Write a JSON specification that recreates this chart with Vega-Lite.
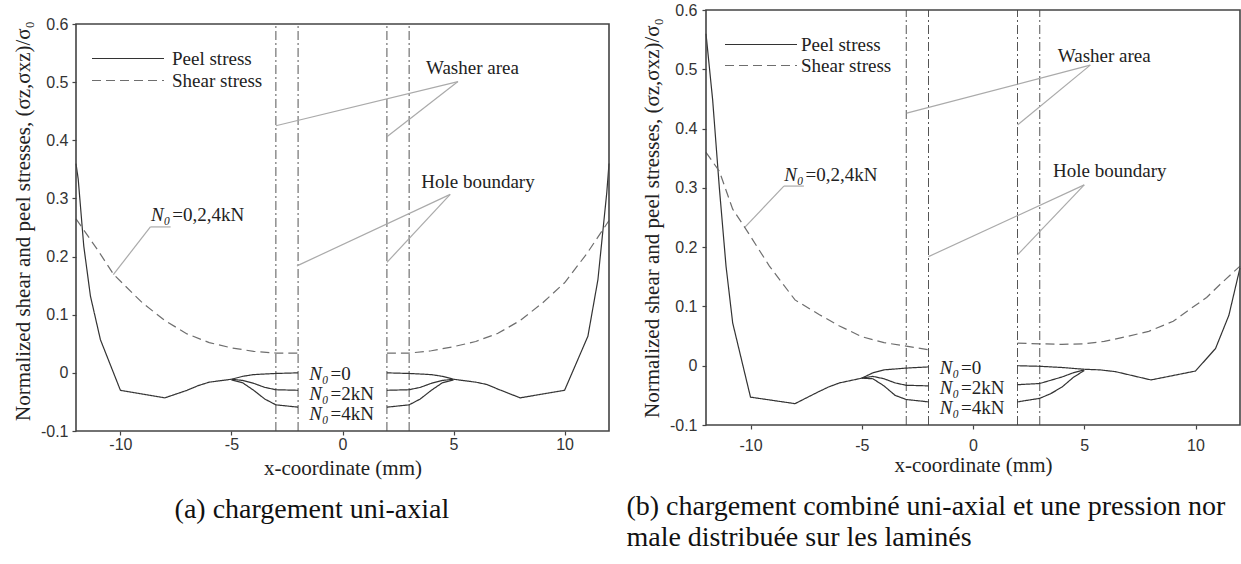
{
  "$schema": "https://vega.github.io/schema/vega-lite/v6.json",
  "background": "white",
  "padding": {"left": 12, "top": 2, "right": 0, "bottom": 0},
  "config": {
    "view": {"stroke": null},
    "font": "Liberation Serif",
    "axis": {"grid": false, "domain": false, "tickColor": "#444", "tickSize": 4, "tickWidth": 1.2, "labelFont": "Liberation Sans", "labelFontSize": 16, "labelColor": "#333", "titleFont": "Liberation Serif", "titleFontSize": 21, "titleFontWeight": "normal", "titleColor": "#222"},
    "title": {"font": "Liberation Serif", "fontSize": 28, "fontWeight": "normal", "color": "#111"},
    "concat": {"spacing": 14}
  },
  "datasets": {
    "frame": [{"x": -12, "x2": 12, "y": -0.1, "y2": 0.6}],
    "verticals": [{"x": -3, "y": -0.1, "y2": 0.6}, {"x": -2, "y": -0.1, "y2": 0.6}, {"x": 2, "y": -0.1, "y2": 0.6}, {"x": 3, "y": -0.1, "y2": 0.6}],
    "leaders": [
      {"panel": "a", "x": 5.2, "y": 0.501, "x2": -3, "y2": 0.425},
      {"panel": "a", "x": 5.2, "y": 0.501, "x2": 2, "y2": 0.406},
      {"panel": "a", "x": 4.85, "y": 0.307, "x2": -2.05, "y2": 0.184},
      {"panel": "a", "x": 4.85, "y": 0.307, "x2": 2, "y2": 0.19},
      {"panel": "a", "x": -10.32, "y": 0.169, "x2": -8.65, "y2": 0.251},
      {"panel": "a", "x": -8.65, "y": 0.251, "x2": -7.74, "y2": 0.251},
      {"panel": "b", "x": 5.27, "y": 0.507, "x2": -2.98, "y2": 0.426},
      {"panel": "b", "x": 5.27, "y": 0.507, "x2": 2, "y2": 0.406},
      {"panel": "b", "x": 5.0, "y": 0.305, "x2": -2.0, "y2": 0.184},
      {"panel": "b", "x": 5.0, "y": 0.305, "x2": 2, "y2": 0.187},
      {"panel": "b", "x": -10.27, "y": 0.233, "x2": -8.5, "y2": 0.303},
      {"panel": "b", "x": -8.5, "y": 0.303, "x2": -7.6, "y2": 0.303}
    ],
    "notes": [
      {"panel": "a", "kind": "label", "x": 5.85, "y": 0.524, "text": "Washer area"},
      {"panel": "a", "kind": "label", "x": 6.1, "y": 0.328, "text": "Hole boundary"},
      {"panel": "a", "kind": "nsym", "x": -7.71, "y": 0.272, "text": "N₀"},
      {"panel": "a", "kind": "nrest", "x": -7.71, "y": 0.272, "text": "=0,2,4kN"},
      {"panel": "a", "kind": "nsym", "x": -0.58, "y": -0.002, "text": "N₀"},
      {"panel": "a", "kind": "nrest", "x": -0.58, "y": -0.002, "text": "=0"},
      {"panel": "a", "kind": "nsym", "x": -0.58, "y": -0.036, "text": "N₀"},
      {"panel": "a", "kind": "nrest", "x": -0.58, "y": -0.036, "text": "=2kN"},
      {"panel": "a", "kind": "nsym", "x": -0.58, "y": -0.071, "text": "N₀"},
      {"panel": "a", "kind": "nrest", "x": -0.58, "y": -0.071, "text": "=4kN"},
      {"panel": "b", "kind": "label", "x": 5.9, "y": 0.522, "text": "Washer area"},
      {"panel": "b", "kind": "label", "x": 6.15, "y": 0.328, "text": "Hole boundary"},
      {"panel": "b", "kind": "nsym", "x": -7.57, "y": 0.322, "text": "N₀"},
      {"panel": "b", "kind": "nrest", "x": -7.57, "y": 0.322, "text": "=0,2,4kN"},
      {"panel": "b", "kind": "nsym", "x": -0.58, "y": -0.004, "text": "N₀"},
      {"panel": "b", "kind": "nrest", "x": -0.58, "y": -0.004, "text": "=0"},
      {"panel": "b", "kind": "nsym", "x": -0.58, "y": -0.037, "text": "N₀"},
      {"panel": "b", "kind": "nrest", "x": -0.58, "y": -0.037, "text": "=2kN"},
      {"panel": "b", "kind": "nsym", "x": -0.58, "y": -0.071, "text": "N₀"},
      {"panel": "b", "kind": "nrest", "x": -0.58, "y": -0.071, "text": "=4kN"}
    ],
    "curves": [
      {"panel": "a", "stress": "Peel stress", "seg": "aLc", "x": -12, "y": 0.36},
      {"panel": "a", "stress": "Peel stress", "seg": "aLc", "x": -11.9, "y": 0.333},
      {"panel": "a", "stress": "Peel stress", "seg": "aLc", "x": -11.65, "y": 0.218},
      {"panel": "a", "stress": "Peel stress", "seg": "aLc", "x": -11.35, "y": 0.132},
      {"panel": "a", "stress": "Peel stress", "seg": "aLc", "x": -10.9, "y": 0.057},
      {"panel": "a", "stress": "Peel stress", "seg": "aLc", "x": -10, "y": -0.03},
      {"panel": "a", "stress": "Peel stress", "seg": "aLc", "x": -8, "y": -0.043},
      {"panel": "a", "stress": "Peel stress", "seg": "aLc", "x": -7, "y": -0.03},
      {"panel": "a", "stress": "Peel stress", "seg": "aLc", "x": -6.5, "y": -0.022},
      {"panel": "a", "stress": "Peel stress", "seg": "aLc", "x": -6, "y": -0.016},
      {"panel": "a", "stress": "Peel stress", "seg": "aLc", "x": -5, "y": -0.011},
      {"panel": "a", "stress": "Peel stress", "seg": "aL0", "x": -5, "y": -0.011},
      {"panel": "a", "stress": "Peel stress", "seg": "aL0", "x": -4.5, "y": -0.006},
      {"panel": "a", "stress": "Peel stress", "seg": "aL0", "x": -4, "y": -0.003},
      {"panel": "a", "stress": "Peel stress", "seg": "aL0", "x": -3, "y": -0.001},
      {"panel": "a", "stress": "Peel stress", "seg": "aL0", "x": -2, "y": 0},
      {"panel": "a", "stress": "Peel stress", "seg": "aL2", "x": -5, "y": -0.011},
      {"panel": "a", "stress": "Peel stress", "seg": "aL2", "x": -4.5, "y": -0.013},
      {"panel": "a", "stress": "Peel stress", "seg": "aL2", "x": -4, "y": -0.018},
      {"panel": "a", "stress": "Peel stress", "seg": "aL2", "x": -3.5, "y": -0.025},
      {"panel": "a", "stress": "Peel stress", "seg": "aL2", "x": -3, "y": -0.029},
      {"panel": "a", "stress": "Peel stress", "seg": "aL2", "x": -2, "y": -0.03},
      {"panel": "a", "stress": "Peel stress", "seg": "aL4", "x": -5, "y": -0.012},
      {"panel": "a", "stress": "Peel stress", "seg": "aL4", "x": -4.5, "y": -0.017},
      {"panel": "a", "stress": "Peel stress", "seg": "aL4", "x": -4, "y": -0.03},
      {"panel": "a", "stress": "Peel stress", "seg": "aL4", "x": -3.5, "y": -0.045},
      {"panel": "a", "stress": "Peel stress", "seg": "aL4", "x": -3, "y": -0.055},
      {"panel": "a", "stress": "Peel stress", "seg": "aL4", "x": -2, "y": -0.059},
      {"panel": "a", "stress": "Peel stress", "seg": "aR0", "x": 2, "y": 0},
      {"panel": "a", "stress": "Peel stress", "seg": "aR0", "x": 3, "y": -0.001},
      {"panel": "a", "stress": "Peel stress", "seg": "aR0", "x": 4, "y": -0.003},
      {"panel": "a", "stress": "Peel stress", "seg": "aR0", "x": 4.5, "y": -0.006},
      {"panel": "a", "stress": "Peel stress", "seg": "aR0", "x": 5, "y": -0.011},
      {"panel": "a", "stress": "Peel stress", "seg": "aR2", "x": 2, "y": -0.03},
      {"panel": "a", "stress": "Peel stress", "seg": "aR2", "x": 3, "y": -0.029},
      {"panel": "a", "stress": "Peel stress", "seg": "aR2", "x": 3.5, "y": -0.025},
      {"panel": "a", "stress": "Peel stress", "seg": "aR2", "x": 4, "y": -0.018},
      {"panel": "a", "stress": "Peel stress", "seg": "aR2", "x": 4.5, "y": -0.013},
      {"panel": "a", "stress": "Peel stress", "seg": "aR2", "x": 5, "y": -0.011},
      {"panel": "a", "stress": "Peel stress", "seg": "aR4", "x": 2, "y": -0.059},
      {"panel": "a", "stress": "Peel stress", "seg": "aR4", "x": 3, "y": -0.055},
      {"panel": "a", "stress": "Peel stress", "seg": "aR4", "x": 3.5, "y": -0.045},
      {"panel": "a", "stress": "Peel stress", "seg": "aR4", "x": 4, "y": -0.03},
      {"panel": "a", "stress": "Peel stress", "seg": "aR4", "x": 4.5, "y": -0.017},
      {"panel": "a", "stress": "Peel stress", "seg": "aR4", "x": 5, "y": -0.012},
      {"panel": "a", "stress": "Peel stress", "seg": "aRc", "x": 5, "y": -0.011},
      {"panel": "a", "stress": "Peel stress", "seg": "aRc", "x": 6, "y": -0.016},
      {"panel": "a", "stress": "Peel stress", "seg": "aRc", "x": 6.5, "y": -0.02},
      {"panel": "a", "stress": "Peel stress", "seg": "aRc", "x": 7, "y": -0.028},
      {"panel": "a", "stress": "Peel stress", "seg": "aRc", "x": 8, "y": -0.043},
      {"panel": "a", "stress": "Peel stress", "seg": "aRc", "x": 10, "y": -0.03},
      {"panel": "a", "stress": "Peel stress", "seg": "aRc", "x": 11.05, "y": 0.063},
      {"panel": "a", "stress": "Peel stress", "seg": "aRc", "x": 11.5, "y": 0.16},
      {"panel": "a", "stress": "Peel stress", "seg": "aRc", "x": 11.9, "y": 0.31},
      {"panel": "a", "stress": "Peel stress", "seg": "aRc", "x": 12, "y": 0.36},
      {"panel": "a", "stress": "Shear stress", "seg": "aLs", "x": -12, "y": 0.265},
      {"panel": "a", "stress": "Shear stress", "seg": "aLs", "x": -11, "y": 0.21},
      {"panel": "a", "stress": "Shear stress", "seg": "aLs", "x": -10.3, "y": 0.169},
      {"panel": "a", "stress": "Shear stress", "seg": "aLs", "x": -9, "y": 0.12},
      {"panel": "a", "stress": "Shear stress", "seg": "aLs", "x": -8, "y": 0.09},
      {"panel": "a", "stress": "Shear stress", "seg": "aLs", "x": -7, "y": 0.067},
      {"panel": "a", "stress": "Shear stress", "seg": "aLs", "x": -6, "y": 0.052},
      {"panel": "a", "stress": "Shear stress", "seg": "aLs", "x": -5, "y": 0.043},
      {"panel": "a", "stress": "Shear stress", "seg": "aLs", "x": -4, "y": 0.037},
      {"panel": "a", "stress": "Shear stress", "seg": "aLs", "x": -3, "y": 0.034},
      {"panel": "a", "stress": "Shear stress", "seg": "aLs", "x": -2, "y": 0.034},
      {"panel": "a", "stress": "Shear stress", "seg": "aRs", "x": 2, "y": 0.034},
      {"panel": "a", "stress": "Shear stress", "seg": "aRs", "x": 3, "y": 0.034},
      {"panel": "a", "stress": "Shear stress", "seg": "aRs", "x": 4, "y": 0.038},
      {"panel": "a", "stress": "Shear stress", "seg": "aRs", "x": 5, "y": 0.045},
      {"panel": "a", "stress": "Shear stress", "seg": "aRs", "x": 6, "y": 0.054},
      {"panel": "a", "stress": "Shear stress", "seg": "aRs", "x": 7, "y": 0.068},
      {"panel": "a", "stress": "Shear stress", "seg": "aRs", "x": 8, "y": 0.09},
      {"panel": "a", "stress": "Shear stress", "seg": "aRs", "x": 9, "y": 0.12},
      {"panel": "a", "stress": "Shear stress", "seg": "aRs", "x": 10, "y": 0.155},
      {"panel": "a", "stress": "Shear stress", "seg": "aRs", "x": 11, "y": 0.205},
      {"panel": "a", "stress": "Shear stress", "seg": "aRs", "x": 12, "y": 0.262},
      {"panel": "b", "stress": "Peel stress", "seg": "bLc", "x": -12, "y": 0.56},
      {"panel": "b", "stress": "Peel stress", "seg": "bLc", "x": -11.7, "y": 0.448},
      {"panel": "b", "stress": "Peel stress", "seg": "bLc", "x": -11.4, "y": 0.3},
      {"panel": "b", "stress": "Peel stress", "seg": "bLc", "x": -11.1, "y": 0.168},
      {"panel": "b", "stress": "Peel stress", "seg": "bLc", "x": -10.8, "y": 0.072},
      {"panel": "b", "stress": "Peel stress", "seg": "bLc", "x": -10, "y": -0.053},
      {"panel": "b", "stress": "Peel stress", "seg": "bLc", "x": -8, "y": -0.064},
      {"panel": "b", "stress": "Peel stress", "seg": "bLc", "x": -7, "y": -0.045},
      {"panel": "b", "stress": "Peel stress", "seg": "bLc", "x": -6.5, "y": -0.036},
      {"panel": "b", "stress": "Peel stress", "seg": "bLc", "x": -6, "y": -0.029},
      {"panel": "b", "stress": "Peel stress", "seg": "bLc", "x": -5, "y": -0.021},
      {"panel": "b", "stress": "Peel stress", "seg": "bL0", "x": -5, "y": -0.021},
      {"panel": "b", "stress": "Peel stress", "seg": "bL0", "x": -4.5, "y": -0.012},
      {"panel": "b", "stress": "Peel stress", "seg": "bL0", "x": -4, "y": -0.007},
      {"panel": "b", "stress": "Peel stress", "seg": "bL0", "x": -3, "y": -0.004},
      {"panel": "b", "stress": "Peel stress", "seg": "bL0", "x": -2, "y": -0.002},
      {"panel": "b", "stress": "Peel stress", "seg": "bL2", "x": -5, "y": -0.021},
      {"panel": "b", "stress": "Peel stress", "seg": "bL2", "x": -4.5, "y": -0.018},
      {"panel": "b", "stress": "Peel stress", "seg": "bL2", "x": -4, "y": -0.022},
      {"panel": "b", "stress": "Peel stress", "seg": "bL2", "x": -3.5, "y": -0.029},
      {"panel": "b", "stress": "Peel stress", "seg": "bL2", "x": -3, "y": -0.033},
      {"panel": "b", "stress": "Peel stress", "seg": "bL2", "x": -2, "y": -0.034},
      {"panel": "b", "stress": "Peel stress", "seg": "bL4", "x": -5, "y": -0.021},
      {"panel": "b", "stress": "Peel stress", "seg": "bL4", "x": -4.5, "y": -0.022},
      {"panel": "b", "stress": "Peel stress", "seg": "bL4", "x": -4, "y": -0.034},
      {"panel": "b", "stress": "Peel stress", "seg": "bL4", "x": -3.5, "y": -0.05},
      {"panel": "b", "stress": "Peel stress", "seg": "bL4", "x": -3, "y": -0.057},
      {"panel": "b", "stress": "Peel stress", "seg": "bL4", "x": -2, "y": -0.061},
      {"panel": "b", "stress": "Peel stress", "seg": "bR0", "x": 2, "y": 0},
      {"panel": "b", "stress": "Peel stress", "seg": "bR0", "x": 3, "y": -0.001},
      {"panel": "b", "stress": "Peel stress", "seg": "bR0", "x": 4, "y": -0.003},
      {"panel": "b", "stress": "Peel stress", "seg": "bR0", "x": 5, "y": -0.006},
      {"panel": "b", "stress": "Peel stress", "seg": "bR2", "x": 2, "y": -0.032},
      {"panel": "b", "stress": "Peel stress", "seg": "bR2", "x": 3, "y": -0.03},
      {"panel": "b", "stress": "Peel stress", "seg": "bR2", "x": 4, "y": -0.019},
      {"panel": "b", "stress": "Peel stress", "seg": "bR2", "x": 4.5, "y": -0.012},
      {"panel": "b", "stress": "Peel stress", "seg": "bR2", "x": 5, "y": -0.007},
      {"panel": "b", "stress": "Peel stress", "seg": "bR4", "x": 2, "y": -0.061},
      {"panel": "b", "stress": "Peel stress", "seg": "bR4", "x": 3, "y": -0.055},
      {"panel": "b", "stress": "Peel stress", "seg": "bR4", "x": 3.5, "y": -0.047},
      {"panel": "b", "stress": "Peel stress", "seg": "bR4", "x": 4, "y": -0.036},
      {"panel": "b", "stress": "Peel stress", "seg": "bR4", "x": 4.5, "y": -0.02},
      {"panel": "b", "stress": "Peel stress", "seg": "bR4", "x": 5, "y": -0.008},
      {"panel": "b", "stress": "Peel stress", "seg": "bRc", "x": 5, "y": -0.006},
      {"panel": "b", "stress": "Peel stress", "seg": "bRc", "x": 5.7, "y": -0.007},
      {"panel": "b", "stress": "Peel stress", "seg": "bRc", "x": 6.4, "y": -0.01},
      {"panel": "b", "stress": "Peel stress", "seg": "bRc", "x": 8, "y": -0.024},
      {"panel": "b", "stress": "Peel stress", "seg": "bRc", "x": 10, "y": -0.009},
      {"panel": "b", "stress": "Peel stress", "seg": "bRc", "x": 10.9, "y": 0.029},
      {"panel": "b", "stress": "Peel stress", "seg": "bRc", "x": 11.5, "y": 0.085},
      {"panel": "b", "stress": "Peel stress", "seg": "bRc", "x": 12, "y": 0.165},
      {"panel": "b", "stress": "Shear stress", "seg": "bLs", "x": -12, "y": 0.36},
      {"panel": "b", "stress": "Shear stress", "seg": "bLs", "x": -11.4, "y": 0.328},
      {"panel": "b", "stress": "Shear stress", "seg": "bLs", "x": -10.8, "y": 0.264},
      {"panel": "b", "stress": "Shear stress", "seg": "bLs", "x": -10.2, "y": 0.23},
      {"panel": "b", "stress": "Shear stress", "seg": "bLs", "x": -9.15, "y": 0.168},
      {"panel": "b", "stress": "Shear stress", "seg": "bLs", "x": -8, "y": 0.111},
      {"panel": "b", "stress": "Shear stress", "seg": "bLs", "x": -6.9, "y": 0.086},
      {"panel": "b", "stress": "Shear stress", "seg": "bLs", "x": -6, "y": 0.067},
      {"panel": "b", "stress": "Shear stress", "seg": "bLs", "x": -5, "y": 0.049},
      {"panel": "b", "stress": "Shear stress", "seg": "bLs", "x": -4, "y": 0.039},
      {"panel": "b", "stress": "Shear stress", "seg": "bLs", "x": -3, "y": 0.033},
      {"panel": "b", "stress": "Shear stress", "seg": "bLs", "x": -2, "y": 0.027},
      {"panel": "b", "stress": "Shear stress", "seg": "bRs", "x": 2, "y": 0.038},
      {"panel": "b", "stress": "Shear stress", "seg": "bRs", "x": 3, "y": 0.037},
      {"panel": "b", "stress": "Shear stress", "seg": "bRs", "x": 4, "y": 0.036},
      {"panel": "b", "stress": "Shear stress", "seg": "bRs", "x": 5, "y": 0.037},
      {"panel": "b", "stress": "Shear stress", "seg": "bRs", "x": 5.9, "y": 0.041},
      {"panel": "b", "stress": "Shear stress", "seg": "bRs", "x": 7, "y": 0.05},
      {"panel": "b", "stress": "Shear stress", "seg": "bRs", "x": 7.9, "y": 0.058},
      {"panel": "b", "stress": "Shear stress", "seg": "bRs", "x": 9, "y": 0.075},
      {"panel": "b", "stress": "Shear stress", "seg": "bRs", "x": 9.7, "y": 0.094},
      {"panel": "b", "stress": "Shear stress", "seg": "bRs", "x": 10.5, "y": 0.115},
      {"panel": "b", "stress": "Shear stress", "seg": "bRs", "x": 11.1, "y": 0.137},
      {"panel": "b", "stress": "Shear stress", "seg": "bRs", "x": 12, "y": 0.168}
    ]
  },
  "resolve": {"legend": {"strokeDash": "independent", "color": "independent"}},
  "hconcat": [
    {
      "width": 533,
      "height": 421,
      "title": {"text": "(a) chargement uni-axial", "orient": "bottom", "anchor": "middle", "frame": "bounds", "offset": 18},
      "encoding": {
        "x": {"field": "x", "type": "quantitative", "scale": {"domain": [-12, 12], "nice": false, "zero": false},
              "axis": {"values": [-10, -5, 0, 5, 10], "title": "x-coordinate (mm)", "labelExpr": "datum.value < 0 ? '-' + format(-datum.value, 'd') : format(datum.value, 'd')", "labelPadding": 1, "titlePadding": 5}},
        "y": {"field": "y", "type": "quantitative", "scale": {"domain": [-0.1, 0.6241], "nice": false, "zero": false},
              "axis": {"values": [-0.1, 0, 0.1, 0.2, 0.3, 0.4, 0.5, 0.6], "title": "Normalized shear and peel stresses, (σz,σxz)/σ₀", "labelExpr": "datum.value == 0 ? '0' : (datum.value < 0 ? '-' + format(-datum.value, '.1f') : format(datum.value, '.1f'))", "labelPadding": 4, "titlePadding": 7}}
      },
      "layer": [
        {"data": {"name": "verticals"}, "mark": {"type": "rule", "stroke": "#555", "strokeWidth": 1, "strokeDash": [9, 3, 2, 3]},
         "encoding": {"y2": {"field": "y2"}}},
        {"data": {"name": "leaders"}, "transform": [{"filter": "datum.panel == 'a'"}], "mark": {"type": "rule", "stroke": "#aaa", "strokeWidth": 1.2},
         "encoding": {"x2": {"field": "x2"}, "y2": {"field": "y2"}}},
        {"data": {"name": "curves"}, "transform": [{"filter": "datum.panel == 'a'"}], "mark": {"type": "line", "strokeWidth": 1.2},
         "encoding": {
           "detail": {"field": "seg"},
           "strokeDash": {"field": "stress", "type": "nominal", "scale": {"domain": ["Peel stress", "Shear stress"], "range": [[1, 0], [9, 5]]},
             "legend": {"orient": "none", "legendX": 11, "legendY": 39, "title": null, "symbolType": "M-1,0H15", "symbolSize": 81, "symbolStrokeWidth": 1.2, "symbolFillColor": "transparent", "labelOffset": 66, "labelFont": "Liberation Serif", "labelFontSize": 19, "labelColor": "#222", "rowPadding": 2, "padding": 0}},
           "color": {"field": "stress", "type": "nominal", "scale": {"domain": ["Peel stress", "Shear stress"], "range": ["#333333", "#6e6e6e"]},
             "legend": {"orient": "none", "legendX": 11, "legendY": 39, "title": null, "symbolType": "M-1,0H15", "symbolSize": 81, "symbolStrokeWidth": 1.2, "symbolFillColor": "transparent", "labelOffset": 66, "labelFont": "Liberation Serif", "labelFontSize": 19, "labelColor": "#222", "rowPadding": 2, "padding": 0}}
         }},
        {"data": {"name": "notes"}, "transform": [{"filter": "datum.panel == 'a' && datum.kind == 'label'"}], "mark": {"type": "text", "align": "center", "baseline": "middle", "font": "Liberation Serif", "fontSize": 19, "color": "#222"}, "encoding": {"text": {"field": "text"}}},
        {"data": {"name": "notes"}, "transform": [{"filter": "datum.panel == 'a' && datum.kind == 'nsym'"}], "mark": {"type": "text", "align": "right", "baseline": "middle", "dx": -1, "font": "Liberation Serif", "fontStyle": "italic", "fontSize": 19, "color": "#222"}, "encoding": {"text": {"field": "text"}}},
        {"data": {"name": "notes"}, "transform": [{"filter": "datum.panel == 'a' && datum.kind == 'nrest'"}], "mark": {"type": "text", "align": "left", "baseline": "middle", "dx": 1, "font": "Liberation Serif", "fontSize": 19, "color": "#222"}, "encoding": {"text": {"field": "text"}}},
        {"data": {"name": "frame"}, "mark": {"type": "rect", "fill": "white", "fillOpacity": 0, "stroke": "#444", "strokeWidth": 1.6},
         "encoding": {"x2": {"field": "x2"}, "y2": {"field": "y2"}}}
      ]
    },
    {
      "width": 534,
      "height": 415,
      "title": {"text": ["(b) chargement combiné uni-axial et une pression nor", "male distribuée sur les laminés"], "orient": "bottom", "anchor": "start", "frame": "bounds", "offset": 18, "dx": -15, "lineHeight": 31},
      "encoding": {
        "x": {"field": "x", "type": "quantitative", "scale": {"domain": [-12, 12], "nice": false, "zero": false},
              "axis": {"values": [-10, -5, 0, 5, 10], "title": "x-coordinate (mm)", "labelExpr": "datum.value < 0 ? '-' + format(-datum.value, 'd') : format(datum.value, 'd')", "labelPadding": 8, "titlePadding": 1}},
        "y": {"field": "y", "type": "quantitative", "scale": {"domain": [-0.1, 0.6], "nice": false, "zero": false},
              "axis": {"values": [-0.1, 0, 0.1, 0.2, 0.3, 0.4, 0.5, 0.6], "title": "Normalized shear and peel stresses, (σz,σxz)/σ₀", "labelExpr": "datum.value == 0 ? '0' : (datum.value < 0 ? '-' + format(-datum.value, '.1f') : format(datum.value, '.1f'))", "labelPadding": 5, "titlePadding": 7}}
      },
      "layer": [
        {"data": {"name": "verticals"}, "mark": {"type": "rule", "stroke": "#555", "strokeWidth": 1, "strokeDash": [9, 3, 2, 3]},
         "encoding": {"y2": {"field": "y2"}}},
        {"data": {"name": "leaders"}, "transform": [{"filter": "datum.panel == 'b'"}], "mark": {"type": "rule", "stroke": "#aaa", "strokeWidth": 1.2},
         "encoding": {"x2": {"field": "x2"}, "y2": {"field": "y2"}}},
        {"data": {"name": "curves"}, "transform": [{"filter": "datum.panel == 'b'"}], "mark": {"type": "line", "strokeWidth": 1.2},
         "encoding": {
           "detail": {"field": "seg"},
           "strokeDash": {"field": "stress", "type": "nominal", "scale": {"domain": ["Peel stress", "Shear stress"], "range": [[1, 0], [9, 5]]},
             "legend": {"orient": "none", "legendX": 14, "legendY": 25, "title": null, "symbolType": "M-1,0H15", "symbolSize": 81, "symbolStrokeWidth": 1.2, "symbolFillColor": "transparent", "labelOffset": 62, "labelFont": "Liberation Serif", "labelFontSize": 19, "labelColor": "#222", "rowPadding": 1, "padding": 0}},
           "color": {"field": "stress", "type": "nominal", "scale": {"domain": ["Peel stress", "Shear stress"], "range": ["#333333", "#6e6e6e"]},
             "legend": {"orient": "none", "legendX": 14, "legendY": 25, "title": null, "symbolType": "M-1,0H15", "symbolSize": 81, "symbolStrokeWidth": 1.2, "symbolFillColor": "transparent", "labelOffset": 62, "labelFont": "Liberation Serif", "labelFontSize": 19, "labelColor": "#222", "rowPadding": 1, "padding": 0}}
         }},
        {"data": {"name": "notes"}, "transform": [{"filter": "datum.panel == 'b' && datum.kind == 'label'"}], "mark": {"type": "text", "align": "center", "baseline": "middle", "font": "Liberation Serif", "fontSize": 19, "color": "#222"}, "encoding": {"text": {"field": "text"}}},
        {"data": {"name": "notes"}, "transform": [{"filter": "datum.panel == 'b' && datum.kind == 'nsym'"}], "mark": {"type": "text", "align": "right", "baseline": "middle", "dx": -1, "font": "Liberation Serif", "fontStyle": "italic", "fontSize": 19, "color": "#222"}, "encoding": {"text": {"field": "text"}}},
        {"data": {"name": "notes"}, "transform": [{"filter": "datum.panel == 'b' && datum.kind == 'nrest'"}], "mark": {"type": "text", "align": "left", "baseline": "middle", "dx": 1, "font": "Liberation Serif", "fontSize": 19, "color": "#222"}, "encoding": {"text": {"field": "text"}}},
        {"data": {"name": "frame"}, "mark": {"type": "rect", "fill": "white", "fillOpacity": 0, "stroke": "#444", "strokeWidth": 1.6},
         "encoding": {"x2": {"field": "x2"}, "y2": {"field": "y2"}}}
      ]
    }
  ]
}
